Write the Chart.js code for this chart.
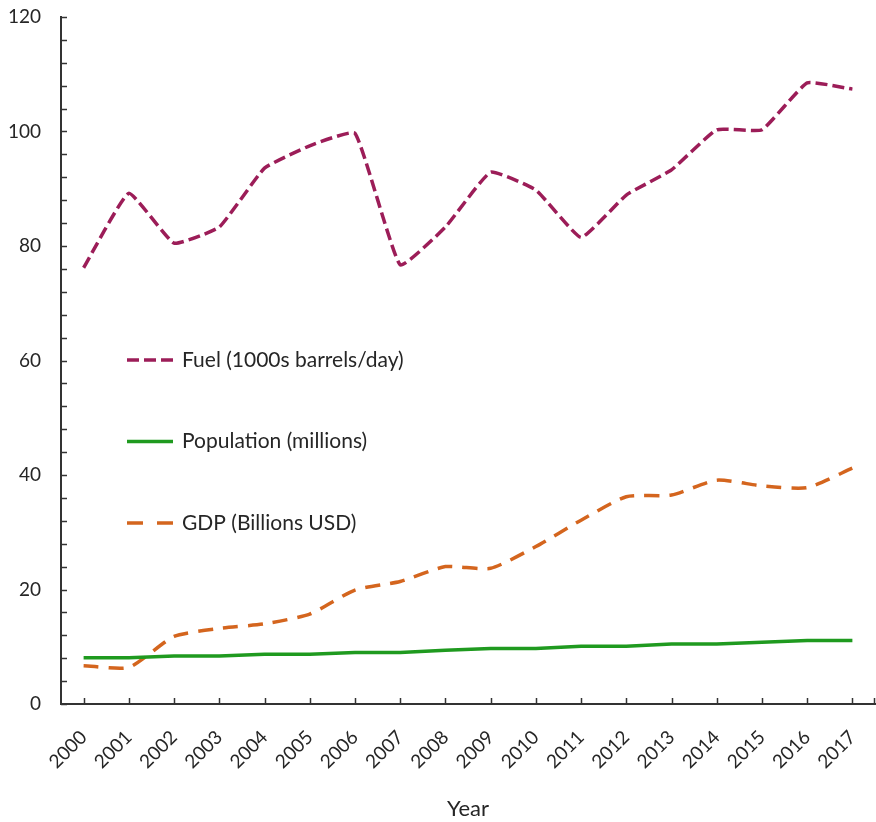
<!DOCTYPE html>
<html lang="en">
<head>
  <meta charset="UTF-8" />
  <title>Fuel, Population and GDP</title>
  <script src="https://cdn.jsdelivr.net/npm/chart.js"></script>
  <style>
    html, body { margin: 0; padding: 0; background: #fff; }
    #wrap { width: 876px; height: 822px; }
  </style>
</head>
<body>
  <div id="wrap"><canvas id="grafico" width="876" height="822"></canvas></div>

  <script>
    // dados
    const anos = ['2000', '2001', '2002', '2003', '2004', '2005', '2006', '2007', '2008',
                  '2009', '2010', '2011', '2012', '2013', '2014', '2015', '2016', '2017'];
    const fuel = [76.2, 89.2, 80.5, 83.3, 93.6, 97.5, 99.7, 76.7, 83.3,
                  92.9, 89.8, 81.5, 88.9, 93.3, 100.3, 100.3, 108.5, 107.4];
    const population = [8.1, 8.1, 8.4, 8.4, 8.7, 8.7, 9.0, 9.0, 9.4,
                        9.7, 9.7, 10.1, 10.1, 10.5, 10.5, 10.8, 11.1, 11.1];
    const gdp = [6.7, 6.4, 11.8, 13.2, 14.0, 15.7, 19.9, 21.4, 24.0,
                 23.7, 27.5, 32.1, 36.2, 36.5, 39.1, 38.1, 37.8, 41.2];
    const yMax = 120;
    const yPasso = 4;
    const yRotulo = 20;

    const fonte = 'Lato, "Open Sans", sans-serif';
    const corEixo = '#333';
    const corTexto = '#262626';

    // marcas dos eixos voltadas para dentro
    const marcasInternas = {
      id: 'marcasInternas',
      afterDraw(chart) {
        const ctx = chart.ctx;
        const area = chart.chartArea;
        const { x, y } = chart.scales;
        ctx.save();
        ctx.strokeStyle = corEixo;
        ctx.lineWidth = 1.5;
        y.ticks.forEach((t, i) => {
          const py = Math.round(y.getPixelForTick(i)) + 0.5;
          ctx.beginPath();
          ctx.moveTo(area.left, py);
          ctx.lineTo(area.left + 6, py);
          ctx.stroke();
        });
        const xs = x.ticks.map((t, i) => x.getPixelForTick(i));
        xs.push(area.right - 1);
        xs.forEach(px => {
          px = Math.round(px) + 0.5;
          ctx.beginPath();
          ctx.moveTo(px, area.bottom);
          ctx.lineTo(px, area.bottom - 6);
          ctx.stroke();
        });
        ctx.restore();
      }
    };

    // legenda dentro da área do gráfico
    const legendaInterna = {
      id: 'legendaInterna',
      afterDatasetsDraw(chart) {
        const ctx = chart.ctx;
        const x0 = 127, x1 = 173, yTopo = 360, passo = 81.5;
        ctx.save();
        chart.data.datasets.forEach((ds, i) => {
          const py = yTopo + i * passo;
          ctx.strokeStyle = ds.borderColor;
          ctx.lineWidth = ds.borderWidth;
          ctx.setLineDash(ds.legendDash || []);
          ctx.beginPath();
          ctx.moveTo(x0, py);
          ctx.lineTo(x1, py);
          ctx.stroke();
          ctx.setLineDash([]);
          ctx.fillStyle = corTexto;
          ctx.font = '21px ' + fonte;
          ctx.textBaseline = 'middle';
          ctx.textAlign = 'left';
          ctx.fillText(ds.label, x1 + 9, py);
        });
        ctx.restore();
      }
    };

    new Chart(document.getElementById('grafico'), {
      type: 'line',
      data: {
        labels: anos,
        datasets: [
          {
            label: 'Fuel (1000s barrels/day)',
            data: fuel,
            borderColor: '#9c1d58',
            borderWidth: 3.5,
            borderDash: [12, 5],
            legendDash: [12, 5],
            tension: 0.12,
            pointRadius: 0
          },
          {
            label: 'Population (millions)',
            data: population,
            borderColor: '#1f9a1f',
            borderWidth: 3.5,
            tension: 0,
            pointRadius: 0
          },
          {
            label: 'GDP (Billions USD)',
            data: gdp,
            borderColor: '#d4651e',
            borderWidth: 3.5,
            borderDash: [15, 10],
            legendDash: [16, 14],
            tension: 0.2,
            pointRadius: 0
          }
        ]
      },
      options: {
        responsive: false,
        animation: false,
        layout: { padding: { top: 17, right: 1, left: 0, bottom: 0 } },
        plugins: {
          legend: { display: false },
          tooltip: { enabled: false }
        },
        scales: {
          x: {
            offset: true,
            grid: { display: false, drawTicks: false },
            border: { display: true, color: corEixo, width: 2 },
            ticks: {
              color: corTexto,
              font: { family: fonte, size: 19 },
              maxRotation: 45,
              minRotation: 45,
              padding: 22,
              autoSkip: false
            },
            title: {
              display: true,
              text: 'Year',
              color: corTexto,
              font: { family: fonte, size: 22 },
              padding: { top: 20, bottom: 0 }
            },
            afterFit(scale) {
              scale.height = 118;
              scale.paddingLeft = 0;
              scale.paddingRight = 0;
            }
          },
          y: {
            min: 0,
            max: yMax,
            grid: { display: false, drawTicks: false },
            border: { display: true, color: corEixo, width: 2 },
            ticks: {
              stepSize: yPasso,
              autoSkip: false,
              color: corTexto,
              font: { family: fonte, size: 19 },
              padding: 20,
              callback: v => (v % yRotulo === 0 ? v : '')
            },
            afterFit(scale) {
              scale.width = 61;
              scale.paddingTop = 0;
              scale.paddingBottom = 0;
            }
          }
        }
      },
      plugins: [marcasInternas, legendaInterna]
    });
  </script>
</body>
</html>
